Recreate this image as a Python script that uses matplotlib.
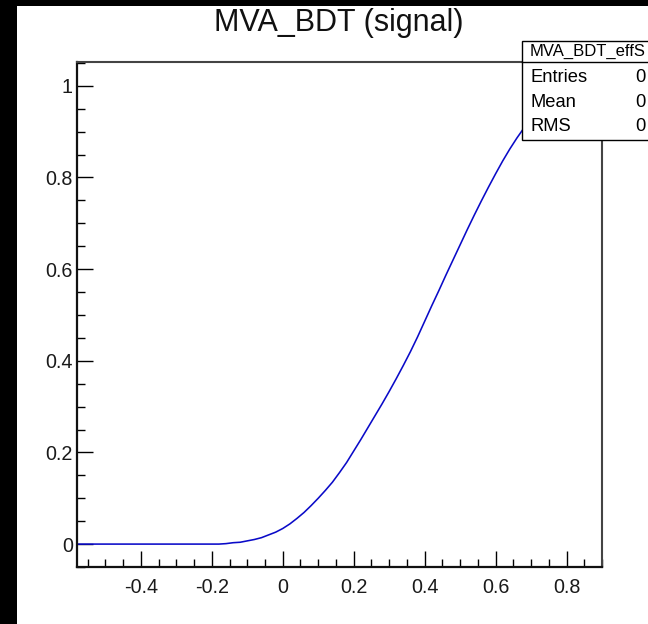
import matplotlib
matplotlib.use('Agg')
import matplotlib.pyplot as plt
from matplotlib.patches import Rectangle
from matplotlib.lines import Line2D
from matplotlib.ticker import MultipleLocator, FixedLocator

plt.rcParams['font.family'] = ['Liberation Sans', 'DejaVu Sans']

title = "MVA_BDT (signal)"
hist_name = "MVA_BDT_effS"
stats_labels = ["Entries", "Mean", "RMS"]
stats_values = ["0", "0", "0"]

bdt_cut = [-0.58, -0.18, -0.16, -0.14, -0.12, -0.10, -0.08, -0.06, -0.04, -0.02,
           0.00, 0.02, 0.04, 0.06, 0.08, 0.10, 0.12, 0.14, 0.16, 0.18,
           0.20, 0.22, 0.24, 0.26, 0.28, 0.30, 0.32, 0.34, 0.36, 0.38,
           0.40, 0.42, 0.44, 0.46, 0.48, 0.50, 0.52, 0.54, 0.56, 0.58,
           0.60, 0.62, 0.64, 0.66, 0.68, 0.70, 0.72, 0.74, 0.76, 0.78,
           0.80, 0.82, 0.84, 0.86, 0.90]
eff_signal = [0.0, 0.0, 0.001, 0.003, 0.004, 0.007, 0.010, 0.014, 0.020, 0.026,
              0.034, 0.044, 0.056, 0.069, 0.084, 0.100, 0.117, 0.135, 0.156, 0.178,
              0.203, 0.228, 0.254, 0.280, 0.306, 0.333, 0.361, 0.390, 0.420, 0.452,
              0.486, 0.520, 0.553, 0.587, 0.620, 0.653, 0.686, 0.718, 0.749, 0.779,
              0.808, 0.836, 0.862, 0.886, 0.908, 0.928, 0.946, 0.961, 0.974, 0.984,
              0.991, 0.996, 0.999, 1.0, 1.0]

x_range = (-0.58, 0.90)
y_range = (-0.05, 1.052)
xticks = [-0.4, -0.2, 0, 0.2, 0.4, 0.6, 0.8]
xticklabels = ["-0.4", "-0.2", "0", "0.2", "0.4", "0.6", "0.8"]
yticks = [0, 0.2, 0.4, 0.6, 0.8, 1]
yticklabels = ["0", "0.2", "0.4", "0.6", "0.8", "1"]

W, H = 648, 624
fig = plt.figure(figsize=(W / 100, H / 100), dpi=100)
fig.patch.set_facecolor('white')

# axes placement in pixels
L, R, T, B = 77, 602, 62, 567
ax = fig.add_axes([L / W, 1 - B / H, (R - L) / W, (B - T) / H])

ax.plot(bdt_cut, eff_signal, color='#0a0ac8', lw=1.15)
ax.set_xlim(*x_range)
ax.set_ylim(*y_range)

ax.xaxis.set_major_locator(FixedLocator(xticks))
ax.set_xticklabels(xticklabels)
ax.yaxis.set_major_locator(FixedLocator(yticks))
ax.set_yticklabels(yticklabels)
ax.xaxis.set_minor_locator(MultipleLocator(0.05))
ax.yaxis.set_minor_locator(MultipleLocator(0.05))

ax.tick_params(which='major', direction='in', length=11.5, width=1.0, color='black',
               labelsize=14.2, labelcolor='#1a1a1a')
ax.tick_params(which='minor', direction='in', length=5.8, width=1.0, color='black')
ax.tick_params(axis='x', which='major', pad=8)
ax.tick_params(axis='y', which='major', pad=3)
ax.tick_params(top=False, right=False, which='both')

for s in ['left', 'bottom']:
    ax.spines[s].set_linewidth(1.6)
    ax.spines[s].set_color('#111111')
for s in ['top', 'right']:
    ax.spines[s].set_linewidth(1.5)
    ax.spines[s].set_color('#444444')

# title
fig.text(339 / W, 1 - 23 / H, title, ha='center', va='center', fontsize=22, color='#111111')

# black strips (canvas border)
fig.add_artist(Rectangle((0, 0), 17 / W, 1, transform=fig.transFigure,
                         facecolor='black', edgecolor='none', zorder=5))
fig.add_artist(Rectangle((0, 1 - 6 / H), 1, 6 / H, transform=fig.transFigure,
                         facecolor='black', edgecolor='none', zorder=5))

# stats box
bx0, bx1, by0, by1 = 522, 660, 41, 140
sep = 62
fig.add_artist(Rectangle((bx0 / W, 1 - by1 / H), (bx1 - bx0) / W, (by1 - by0) / H,
                         transform=fig.transFigure, facecolor='white',
                         edgecolor='black', lw=1.0, zorder=6))
fig.add_artist(Line2D([bx0 / W, 1], [1 - sep / H, 1 - sep / H], transform=fig.transFigure,
                      color='black', lw=1.0, zorder=7))
fig.text(588 / W, 1 - 51.5 / H, hist_name, ha='center', va='center', fontsize=12,
         color='black', zorder=8)
row_y = [78, 102.5, 127]
for lab, val, yy in zip(stats_labels, stats_values, row_y):
    fig.text(530 / W, 1 - yy / H, lab, ha='left', va='center', fontsize=13.2,
             color='black', zorder=8)
    fig.text(646 / W, 1 - yy / H, val, ha='right', va='center', fontsize=13.2,
             color='black', zorder=8)

fig.savefig('out.png', dpi=100, facecolor='white')
